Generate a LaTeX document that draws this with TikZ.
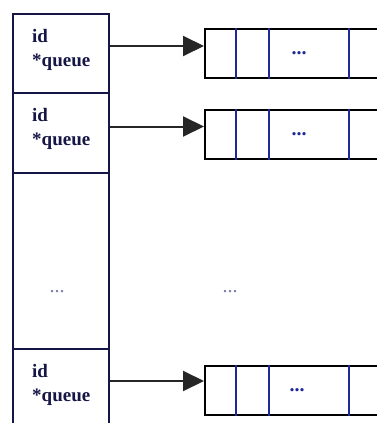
\documentclass[tikz,border=0pt]{standalone}
\usepackage{fontspec}
\setmainfont{Liberation Serif}
\usetikzlibrary{arrows.meta,positioning}
\definecolor{ink}{RGB}{22,22,70}
\definecolor{cellrule}{RGB}{30,40,150}
\definecolor{fade}{RGB}{120,120,170}
\tikzset{
  slot/.style={draw=ink, line width=2pt, anchor=north west, inner sep=0pt,
    minimum width=96pt},
  field/.style={anchor=north west, inner sep=0pt, align=left, text=ink,
    font=\fontsize{19}{24}\selectfont\bfseries},
  queue/.style={draw=black, line width=2.2pt, anchor=north west, inner sep=0pt,
    minimum width=200pt, minimum height=49pt},
  feed/.style={draw=black!85, line width=2pt, -{Triangle[length=21pt,width=20pt]}},
  gap/.style={text=fade, font=\fontsize{20}{20}\selectfont},
  celldots/.style={text=cellrule, font=\fontsize{20}{20}\selectfont\bfseries}
}
\newcommand\cells[1]{%
  % cell borders inside one queue
  \foreach \dx in {32,65,145}
    \draw[cellrule, line width=1.8pt] ([xshift=\dx pt]#1.north west) -- ([xshift=\dx pt]#1.south west);
}
\begin{document}
\begin{tikzpicture}[x=1pt,y=-1pt]
  \useasboundingbox (0,0) rectangle (377,423);
  \clip (0,0) rectangle (377,423);
  % Draw the table of slots
  \node[slot, minimum height=79pt] (slot1) at (12,13) {};
  \node[slot, minimum height=80pt] (slot2) at (12,92) {};
  \node[slot, minimum height=176pt] (slotdots) at (12,172) {};
  \node[slot, minimum height=92pt] (slotn) at (12,348) {};
  \node[field] (f1) at ([shift={(20pt,-16pt)}]slot1.north west) {id\\*queue};
  \node[field] (f2) at ([shift={(20pt,-16pt)}]slot2.north west) {id\\*queue};
  \node[field] (fn) at ([shift={(20pt,-16pt)}]slotn.north west) {id\\*queue};
  \node[gap] (d1) at (57,292) {...};
  \node[gap] (d2) at (230,292) {...};
  % Draw the queues
  \node[queue] (q1) at (204,28) {};
  \node[queue] (q2) at (204,109) {};
  \node[queue] (qn) at (204,365) {};
  \cells{q1}
  \cells{q2}
  \cells{qn}
  \node[celldots] at ([xshift=95pt,yshift=0pt]q1.west) {...};
  \node[celldots] at ([xshift=95pt,yshift=0pt]q2.west) {...};
  \node[celldots] at ([xshift=93pt,yshift=0pt]qn.west) {...};
  % Add the pointers
  \draw[feed] ([yshift=7.5pt]slot1.east) -- ([yshift=7.5pt]slot1.east -| q1.west);
  \draw[feed] ([yshift=6.5pt]slot2.east) -- ([yshift=6.5pt]slot2.east -| q2.west);
  \draw[feed] ([yshift=14pt]slotn.east) -- ([yshift=14pt]slotn.east -| qn.west);
\end{tikzpicture}
\end{document}
